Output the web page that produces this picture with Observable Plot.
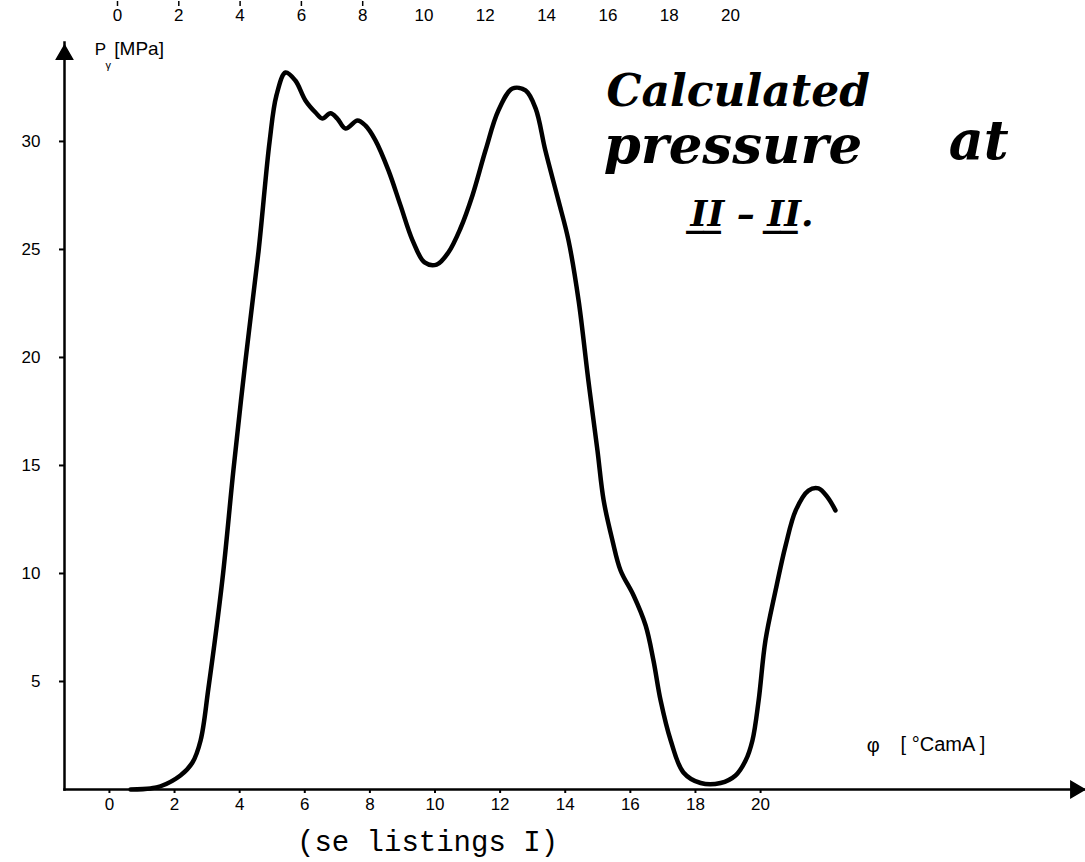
<!DOCTYPE html>
<html>
<head>
<meta charset="utf-8">
<script src="https://cdn.jsdelivr.net/npm/d3@7"></script>
<script src="https://cdn.jsdelivr.net/npm/@observablehq/plot@0.6"></script>
<style>
  html, body { margin: 0; padding: 0; background: #fff; }
  #wrap { position: relative; width: 1085px; height: 862px; }
  #wrap svg { display: block; }
  #top { position: absolute; left: 0; top: 0; }
</style>
</head>
<body>
<div id="wrap"><div id="chart"></div><div id="top"></div></div>
<script>
// Cam angle φ [°CamA] (read on the lower axis) and calculated pressure p [MPa]
const phi = [0.65, 1.26, 1.57, 2.18, 2.55, 2.80, 3.04, 3.47, 3.81, 4.18, 4.58, 4.92, 5.13, 5.41, 5.71, 6.02, 6.33, 6.54, 6.79, 7.00, 7.25, 7.62, 7.86, 8.17, 8.57, 8.94, 9.31, 9.68, 10.05, 10.41, 10.78, 11.15, 11.55, 11.95, 12.38, 12.78, 13.09, 13.39, 13.79, 14.10, 14.41, 14.71, 14.99, 15.18, 15.45, 15.70, 16.10, 16.47, 16.71, 16.93, 17.24, 17.63, 18.16, 18.77, 19.23, 19.54, 19.75, 19.94, 20.15, 20.46, 20.77, 21.08, 21.47, 21.78, 22.06, 22.30];
const pressure = [0.0, 0.05, 0.15, 0.65, 1.25, 2.27, 4.68, 9.72, 14.81, 19.86, 24.91, 30.0, 32.13, 33.19, 32.82, 31.9, 31.34, 31.06, 31.3, 31.06, 30.6, 30.97, 30.74, 30.05, 28.66, 27.04, 25.42, 24.4, 24.3, 24.86, 25.97, 27.5, 29.58, 31.44, 32.45, 32.36, 31.53, 29.58, 27.27, 25.42, 22.64, 18.94, 15.69, 13.38, 11.53, 10.14, 8.98, 7.59, 5.97, 4.12, 2.27, 0.79, 0.3, 0.3, 0.65, 1.34, 2.27, 4.12, 6.9, 9.21, 11.3, 12.92, 13.84, 13.94, 13.52, 12.92];

const xTicks = [0, 2, 4, 6, 8, 10, 12, 14, 16, 18, 20];
const topTickMarks = [0, 2, 4, 6, 8];
const yTicks = [5, 10, 15, 20, 25, 30];

const noteText = ["Calculated", "pressure", "at", "I\u0332I\u0332 \u2013 I\u0332I\u0332."];
const noteX = [15.27, 15.18, 25.78, 17.85];
const noteY = [32.3, 29.8, 30.0, 26.6];
const noteSize = [44, 53, 54, 36];

const yLabel = ["P", "γ", "[MPa]"];
const yLabelX = [-0.45, -0.12, 0.15];
const yLabelY = [34.25, 33.5, 34.3];
const yLabelSize = [17, 11, 19];

const xLabel = ["φ", "[ °CamA ]"];
const xLabelX = [23.26, 24.3];
const xLabelY = [2.05, 2.1];
const xLabelSize = [20, 20];

const footnote = "(se listings I)";
const footX = 9.77;
const footY = -2.4;

const curve = phi.map((d, i) => ({phi: d, p: pressure[i]}));
const notes = noteText.map((t, i) => ({t, x: noteX[i], y: noteY[i], s: noteSize[i]}));
const yLab = yLabel.map((t, i) => ({t, x: yLabelX[i], y: yLabelY[i], s: yLabelSize[i]}));
const xLab = xLabel.map((t, i) => ({t, x: xLabelX[i], y: xLabelY[i], s: xLabelSize[i]}));

const font = "'Liberation Sans', 'DejaVu Sans', sans-serif";

const chart = Plot.plot({
  width: 1085,
  height: 862,
  marginLeft: 64,
  marginRight: 0,
  marginTop: 42,
  marginBottom: 73,
  x: {domain: [-1.38, 29.98]},
  y: {domain: [0, 34.58]},
  style: {fontFamily: font, background: "#fff", color: "#000"},
  marks: [
    Plot.frame({anchor: "left", stroke: "#000", strokeWidth: 2.5}),
    Plot.frame({anchor: "bottom", stroke: "#000", strokeWidth: 2.5}),
    Plot.dot([0], {frameAnchor: "top-left", symbol: "triangle", r: 6, fill: "#000", stroke: "#000", dy: 12}),
    Plot.dot([0], {frameAnchor: "bottom-right", symbol: "triangle", r: 6, fill: "#000", stroke: "#000", rotate: 90, dx: -10}),
    Plot.axisY(yTicks, {anchor: "left", tickSize: 5, tickPadding: 19, fontSize: 17, label: null, strokeWidth: 2}),
    Plot.axisX(xTicks, {anchor: "bottom", tickSize: 4, tickPadding: 4, fontSize: 17, label: null, strokeWidth: 2}),
    Plot.line(curve, {x: "phi", y: "p", curve: "catmull-rom", stroke: "#000", strokeWidth: 4.5, strokeLinejoin: "round", strokeLinecap: "round"}),
    Plot.text(notes, {x: "x", y: "y", text: "t", fontSize: "s", textAnchor: "start", fontStyle: "italic", fontWeight: "bold", fontFamily: "'DejaVu Serif', serif", fill: "#000"}),
    Plot.text(yLab, {x: "x", y: "y", text: "t", fontSize: "s", textAnchor: "start", fill: "#000"}),
    Plot.text(xLab, {x: "x", y: "y", text: "t", fontSize: "s", textAnchor: "start", fill: "#000"}),
    Plot.text([footnote], {x: footX, y: footY, text: d => d, fontSize: 29, fontFamily: "'Liberation Mono', 'DejaVu Sans Mono', monospace", fill: "#000"})
  ]
});
document.getElementById("chart").appendChild(chart);

// upper (duplicate) angle scale printed at the top of the original sheet
const topAxis = Plot.plot({
  width: 1085,
  height: 34,
  marginLeft: 0,
  marginRight: 0,
  marginTop: 5,
  marginBottom: 28,
  x: {domain: [0, 20], range: [117, 730]},
  style: {fontFamily: font, background: "transparent", color: "#000"},
  marks: [
    Plot.axisX(topTickMarks, {anchor: "top", tickSize: 5, tickFormat: () => "", strokeWidth: 1.5, label: null}),
    Plot.axisX(xTicks, {anchor: "bottom", tickSize: 0, tickPadding: 2, fontSize: 17, label: null})
  ]
});
document.getElementById("top").appendChild(topAxis);
</script>
</body>
</html>
